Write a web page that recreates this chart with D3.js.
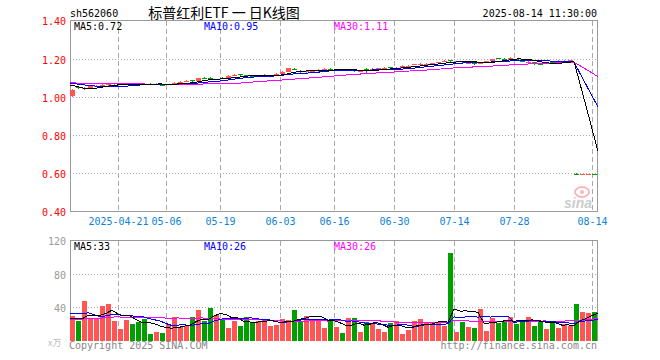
<!DOCTYPE html>
<html><head><meta charset="utf-8">
<script src="https://cdn.jsdelivr.net/npm/d3@7"></script>
<style>html,body{margin:0;padding:0;background:#fff;} svg{display:block}</style>
</head><body><svg id="c" width="660" height="360"></svg>
<script>
// ---------- DATA ----------
const dateTicks = [
  {i: 8, label: "2025-04-21"}, {i: 16, label: "05-06"}, {i: 25, label: "05-19"},
  {i: 35, label: "06-03"}, {i: 44, label: "06-16"}, {i: 54, label: "06-30"},
  {i: 64, label: "07-14"}, {i: 74, label: "07-28"}, {i: 87, label: "08-14"}
];
const priceTicks = [0.40, 0.60, 0.80, 1.00, 1.20, 1.40];
const volTicks = [40, 80, 120];

// closes of the 30 sessions before the window (used only for moving averages)
const priorCloses = [1.070,1.070,1.072,1.075,1.078,1.080,1.082,1.078,1.075,1.077,
  1.080,1.082,1.085,1.083,1.080,1.078,1.076,1.075,1.074,1.073,
  1.072,1.085,1.088,1.090,1.082,1.065,1.090,1.080,1.050,1.030];
const priorVolumes = [22,20,24,18,22,26,21,19,23,25,
  22,20,24,27,21,19,23,25,22,24,
  25,30,35,48,52,30,28,25,27,24.6];

const opens = [1.005,1.054,1.043,1.051,1.057,1.059,1.064,1.064,1.065,1.066,
  1.071,1.072,1.071,1.072,1.069,1.067,1.065,1.072,1.078,1.083,
  1.088,1.087,1.102,1.101,1.092,1.102,1.103,1.116,1.120,1.116,
  1.114,1.108,1.110,1.112,1.121,1.123,1.135,1.148,1.140,1.130,
  1.134,1.136,1.148,1.150,1.142,1.146,1.142,1.145,1.137,1.150,
  1.145,1.149,1.152,1.158,1.152,1.154,1.164,1.170,1.173,1.173,
  1.176,1.182,1.189,1.193,1.186,1.188,1.178,1.177,1.180,1.187,
  1.190,1.205,1.202,1.205,1.198,1.189,1.185,1.184,1.174,1.175,
  1.187,1.188,1.188,1.191,0.600,0.597,0.597,0.598];
const closes = [1.040,1.050,1.050,1.058,1.060,1.067,1.072,1.066,1.070,1.068,
  1.069,1.070,1.069,1.070,1.071,1.065,1.068,1.075,1.080,1.086,
  1.086,1.100,1.100,1.099,1.094,1.100,1.114,1.119,1.118,1.114,
  1.112,1.110,1.119,1.115,1.123,1.135,1.151,1.145,1.130,1.140,
  1.136,1.145,1.150,1.144,1.144,1.144,1.144,1.136,1.140,1.143,
  1.148,1.151,1.154,1.156,1.154,1.165,1.166,1.172,1.175,1.175,
  1.178,1.184,1.191,1.191,1.188,1.186,1.180,1.175,1.182,1.189,
  1.200,1.203,1.200,1.207,1.195,1.187,1.187,1.172,1.172,1.178,
  1.185,1.190,1.190,1.193,0.598,0.599,0.598,0.597];
const highs = [1.045,1.058,1.053,1.062,1.064,1.070,1.075,1.070,1.073,1.071,
  1.074,1.075,1.074,1.074,1.074,1.070,1.071,1.078,1.083,1.089,
  1.092,1.102,1.105,1.104,1.097,1.105,1.116,1.122,1.123,1.119,
  1.117,1.113,1.121,1.118,1.126,1.137,1.153,1.152,1.143,1.142,
  1.139,1.147,1.153,1.152,1.147,1.149,1.147,1.148,1.143,1.152,
  1.151,1.154,1.157,1.161,1.157,1.167,1.169,1.175,1.178,1.178,
  1.181,1.187,1.194,1.197,1.191,1.191,1.183,1.181,1.185,1.192,
  1.202,1.208,1.205,1.210,1.201,1.192,1.190,1.186,1.177,1.181,
  1.190,1.193,1.193,1.196,0.603,0.601,0.600,0.600];
const lows = [1.003,1.046,1.040,1.048,1.054,1.056,1.061,1.061,1.062,1.063,
  1.066,1.067,1.066,1.067,1.066,1.061,1.062,1.070,1.075,1.080,
  1.082,1.085,1.096,1.095,1.089,1.096,1.101,1.113,1.114,1.110,
  1.108,1.105,1.108,1.109,1.118,1.121,1.133,1.141,1.127,1.128,
  1.131,1.134,1.145,1.141,1.139,1.140,1.139,1.133,1.134,1.127,
  1.142,1.146,1.149,1.152,1.149,1.152,1.161,1.167,1.170,1.170,
  1.173,1.179,1.186,1.187,1.183,1.182,1.175,1.171,1.177,1.184,
  1.188,1.199,1.196,1.202,1.191,1.183,1.182,1.169,1.168,1.172,
  1.181,1.185,1.185,1.188,0.595,0.594,0.596,0.595];
const volumes = [30.4,24.4,47.2,26,26,41.2,43.6,24.4,14.8,25.6,
  20.8,23.2,26,8.8,11.2,10,20.8,29.2,17.2,18.4,
  29.2,37.6,24.4,40,31.6,25.6,16,24.4,18.4,29.2,
  22,24.4,25.6,18.4,19.6,26.8,25.6,37.6,24.4,30.4,
  25.6,25.6,16,24.4,17.2,10,28,28,11.2,23.2,
  22,14.8,11.2,22,24.4,8.8,13.6,24.4,26.8,23.2,
  22,22,18.4,104.8,11.2,23.2,17.2,16,38.8,12.4,
  28,22,24.4,29.2,20.8,23.2,29.2,18.4,23.2,14.8,
  22,16,20.8,17.6,44,35.2,34,35.2];

// ---------- SETUP ----------
const RED = "#ff5555", GREEN = "#009f00";
const MA_COLORS = {5: "#000000", 10: "#0000ff", 30: "#ff00ff"};
const MONO = "'DejaVu Sans Mono', monospace";
const svg = d3.select("#c");
const N = closes.length;
const L = 70, R = 598;
const x = d3.scaleLinear().domain([0, N]).range([L, R]);
const y = d3.scaleLinear().domain([0.4, 1.4]).range([211.9, 20.9]);
const yv = d3.scaleLinear().domain([0, 120]).range([341, 240.5]);
const crisp = v => Math.floor(v) + 0.5;

const fullC = priorCloses.concat(closes);
const fullV = priorVolumes.concat(volumes);
const P = priorCloses.length;
function movingAvg(arr, n) {
  const out = [];
  for (let i = -1; i < N; i++) {
    const k = P + i;
    let s = 0;
    for (let j = k - n + 1; j <= k; j++) s += arr[j];
    out.push({i: i, v: s / n});
  }
  return out;
}

svg.append("rect").attr("width", 660).attr("height", 360).attr("fill", "#fff");

// ---------- HEADER ----------
svg.append("text").attr("x", 70).attr("y", 16.5).attr("font-family", MONO).attr("font-size", 10)
  .attr("fill", "#000").text("sh562060");
svg.append("text").attr("x", 224).attr("y", 17.5).attr("text-anchor", "middle")
  .attr("font-family", "'Noto Sans CJK SC', sans-serif").attr("font-size", 14).attr("fill", "#000")
  .text("标普红利ETF 一 日K线图");
svg.append("text").attr("x", 597).attr("y", 16.5).attr("text-anchor", "end").attr("font-family", MONO)
  .attr("font-size", 10).attr("fill", "#000").text("2025-08-14 11:30:00");

// ---------- GRID ----------
function vGrid(top, bottom) {
  svg.append("g").selectAll("line").data(dateTicks).join("line")
    .attr("x1", d => x(d.i) + 0.5).attr("x2", d => x(d.i) + 0.5)
    .attr("y1", top).attr("y2", bottom)
    .attr("stroke", "#aaa").attr("stroke-dasharray", "5,3").attr("shape-rendering", "crispEdges");
}
vGrid(21, 211);
vGrid(241, 341);

svg.append("g").selectAll("line").data(priceTicks.filter(t => t > 0.41 && t < 1.39)).join("line")
  .attr("x1", L).attr("x2", R).attr("y1", d => crisp(y(d))).attr("y2", d => crisp(y(d)))
  .attr("stroke", "#aaa").attr("stroke-dasharray", "1,2").attr("shape-rendering", "crispEdges");
svg.append("g").selectAll("line").data(volTicks.filter(t => t < 120)).join("line")
  .attr("x1", L).attr("x2", R).attr("y1", d => crisp(yv(d))).attr("y2", d => crisp(yv(d)))
  .attr("stroke", "#aaa").attr("stroke-dasharray", "1,2").attr("shape-rendering", "crispEdges");

// frames
const frame = svg.append("g").attr("stroke", "#999").attr("fill", "none").attr("shape-rendering", "crispEdges");
frame.append("rect").attr("x", 70.5).attr("y", crisp(y(1.4))).attr("width", 527).attr("height", crisp(y(0.4)) - crisp(y(1.4)));
frame.append("path").attr("d", `M70.5,341V${crisp(yv(120))}H597.5V341`);

// axis labels
svg.append("g").selectAll("text").data(priceTicks).join("text")
  .attr("x", 66).attr("y", d => crisp(y(d)) + 4).attr("text-anchor", "end")
  .attr("font-family", MONO).attr("font-size", 10).attr("fill", "#ff0000")
  .text(d => d.toFixed(2));
svg.append("g").selectAll("text").data(volTicks).join("text")
  .attr("x", 66).attr("y", d => crisp(yv(d)) + 4).attr("text-anchor", "end")
  .attr("font-family", MONO).attr("font-size", 10).attr("fill", "#999")
  .text(d => d);
svg.append("g").selectAll("text").data(dateTicks).join("text")
  .attr("x", d => x(d.i) + 0.5).attr("y", 225).attr("text-anchor", "middle")
  .attr("font-family", MONO).attr("font-size", 10).attr("fill", "#0a84d6")
  .text(d => d.label);

// ---------- WATERMARK ----------
const wm = svg.append("g").attr("opacity", 0.75);
wm.append("ellipse").attr("cx", 582).attr("cy", 192).attr("rx", 7).attr("ry", 5)
  .attr("fill", "none").attr("stroke", "#f2a0a0").attr("stroke-width", 2);
wm.append("circle").attr("cx", 582).attr("cy", 192).attr("r", 2).attr("fill", "#f2a0a0");
wm.append("text").attr("x", 564).attr("y", 208).attr("font-family", "'Liberation Sans', sans-serif")
  .attr("font-style", "italic").attr("font-weight", "bold").attr("font-size", 14).attr("fill", "#bbb").text("sina");

// ---------- CANDLES ----------
const idx = d3.range(N);
const cg = svg.append("g").attr("shape-rendering", "crispEdges");
cg.selectAll("rect.w").data(idx).join("rect").attr("class", "w")
  .attr("x", i => x(i) + 2).attr("width", 1)
  .attr("y", i => Math.round(y(highs[i])))
  .attr("height", i => Math.max(1, Math.round(y(lows[i])) - Math.round(y(highs[i]))))
  .attr("fill", i => closes[i] >= opens[i] ? RED : GREEN);
cg.selectAll("rect.b").data(idx).join("rect").attr("class", "b")
  .attr("x", i => x(i)).attr("width", 5)
  .attr("y", i => Math.round(y(Math.max(opens[i], closes[i]))))
  .attr("height", i => Math.max(1, Math.round(y(Math.min(opens[i], closes[i]))) - Math.round(y(Math.max(opens[i], closes[i])))))
  .attr("fill", i => closes[i] >= opens[i] ? RED : GREEN);

// ---------- VOLUME BARS ----------
svg.append("g").attr("shape-rendering", "crispEdges").selectAll("rect").data(idx).join("rect")
  .attr("x", i => x(i)).attr("width", 5)
  .attr("y", i => Math.round(yv(volumes[i])))
  .attr("height", i => 341 - Math.round(yv(volumes[i])))
  .attr("fill", i => closes[i] >= opens[i] ? RED : GREEN);

// ---------- MOVING AVERAGES ----------
const priceMA = {}, volMA = {};
[30, 10, 5].forEach(n => {
  priceMA[n] = movingAvg(fullC, n);
  volMA[n] = movingAvg(fullV, n);
  svg.append("path").datum(priceMA[n])
    .attr("d", d3.line().x(d => x(d.i + 1)).y(d => y(d.v)))
    .attr("fill", "none").attr("stroke", MA_COLORS[n]).attr("stroke-width", 1).attr("shape-rendering", "crispEdges");
  svg.append("path").datum(volMA[n])
    .attr("d", d3.line().x(d => x(d.i + 1)).y(d => yv(d.v)))
    .attr("fill", "none").attr("stroke", MA_COLORS[n]).attr("stroke-width", 1).attr("shape-rendering", "crispEdges");
});

// ---------- LEGENDS ----------
const legX = {5: 74, 10: 204, 30: 334};
[5, 10, 30].forEach(n => {
  svg.append("text").attr("x", legX[n]).attr("y", 29.5).attr("font-family", MONO).attr("font-size", 10)
    .attr("fill", MA_COLORS[n]).text(`MA${n}:${priceMA[n][N].v.toFixed(2)}`);
  svg.append("text").attr("x", legX[n]).attr("y", 250).attr("font-family", MONO).attr("font-size", 10)
    .attr("fill", MA_COLORS[n]).text(`MA${n}:${Math.round(volMA[n][N].v)}`);
});

// ---------- FOOTER ----------
svg.append("text").attr("x", 48).attr("y", 346).attr("font-family", "'Noto Sans CJK SC', sans-serif")
  .attr("font-size", 9).attr("fill", "#bbb").text("x万");
svg.append("text").attr("x", 69).attr("y", 348.5).attr("font-family", MONO).attr("font-size", 10)
  .attr("fill", "#888").text("Copyright 2025 SINA.COM");
svg.append("text").attr("x", 597).attr("y", 348.5).attr("text-anchor", "end").attr("font-family", MONO)
  .attr("font-size", 10).attr("fill", "#888").text("http://finance.sina.com.cn");
</script></body></html>
